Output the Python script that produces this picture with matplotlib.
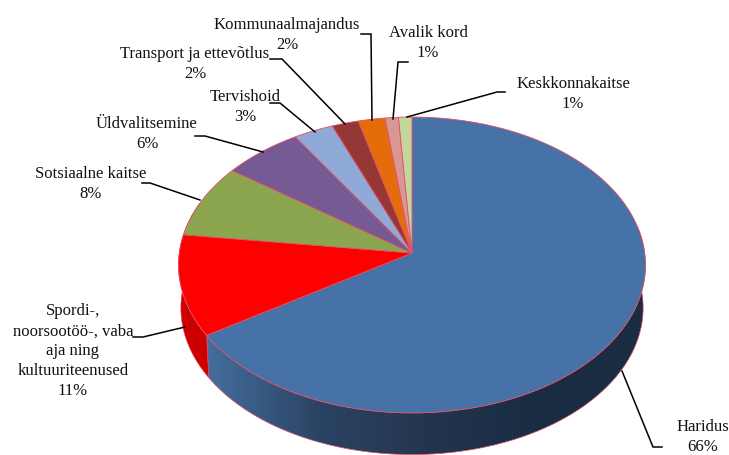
import numpy as np
import matplotlib
matplotlib.use("Agg")
import matplotlib.pyplot as plt
from matplotlib.patches import Polygon
from matplotlib.colors import LinearSegmentedColormap

categories = ["Haridus", "Spordi-,\nnoorsootöö-, vaba\naja ning\nkultuuriteenused", "Sotsiaalne kaitse",
              "Üldvalitsemine", "Tervishoid", "Transport ja ettevõtlus", "Kommunaalmajandus",
              "Avalik kord", "Keskkonnakaitse"]
values = [66, 11, 8, 6, 3, 2, 2, 1, 1]
colors = ["#4672a8", "#ff0000", "#8ba64e", "#765a94", "#8faad6", "#953735", "#e46c0a", "#d99694", "#c3d69b"]

# label centres and leader lines, in pixels
label_pos = [(703, 437), (73, 351), (91, 184), (147, 134), (245, 107), (195, 64), (287, 35), (428, 43), (573, 94)]
leaders = [
    [(622, 372), (653, 448), (662, 448)],
    [(185, 328), (143, 338), (133, 338)],
    [(200, 201), (150, 184), (142, 184)],
    [(263, 153), (205, 137), (195, 137)],
    [(315, 133), (280, 104), (270, 104)],
    [(345, 125), (282, 60), (270, 60)],
    [(372, 121), (371, 35), (361, 35)],
    [(393, 120), (398, 63), (408, 63)],
    [(407, 118), (497, 93), (505, 93)],
]

CX, CY = 412, 254   # where the slices meet
RX, K, P = 232.7, 0.081, -126.4   # perspective of the tilted disc
DEPTH = 43
EDGE = "#e0506a"


def project(theta, scale=1.0, drop=0):
    # theta in degrees clockwise from the top
    t = np.radians(theta)
    u, v = np.sin(t), np.cos(t)
    w = 1 + K * v
    x = CX + scale * RX * u / w
    y = (scale * P * v + CY) / w + drop
    return x, y


def side_poly(t0, t1):
    th = np.linspace(t0, t1, 120)
    xt, yt = project(th)
    xb, yb = project(th[::-1], 0.99, DEPTH)
    return np.column_stack([np.r_[xt, xb], np.r_[yt, yb]])


plt.rcParams["font.family"] = "Liberation Serif"
fig = plt.figure(figsize=(7.29, 4.56), dpi=100)
ax = fig.add_axes([0, 0, 1, 1])

shares = np.array(values) / sum(values) * 360
ends = np.cumsum(shares)
starts = ends - shares

# blue side with its gradient
blue_cmap = LinearSegmentedColormap.from_list("b", ["#456f9f", "#2b4464", "#24364f", "#1a2c42", "#1a2c42"])
side = Polygon(side_poly(80, ends[0]), closed=True, facecolor="none", edgecolor="none")
ax.add_patch(side)
img = ax.imshow(np.linspace(0, 1, 256).reshape(1, -1), cmap=blue_cmap, extent=(205, 645, 460, 270), aspect="auto")
img.set_clip_path(side)
ax.add_patch(Polygon(side_poly(80, ends[0]), closed=True, facecolor="none", edgecolor=EDGE, lw=0.5))
ax.add_patch(Polygon(side_poly(ends[0], 290), closed=True, facecolor="#cc0000", edgecolor=EDGE, lw=0.4))

# top of the pie
for s, e, c in zip(starts, ends, colors):
    th = np.linspace(s, e, 200)
    x, y = project(th)
    pts = np.column_stack([np.r_[CX, x], np.r_[CY, y]])
    ax.add_patch(Polygon(pts, closed=True, facecolor=c, edgecolor=EDGE, lw=0.6))

for line in leaders:
    xs, ys = zip(*line)
    ax.plot(xs, ys, color="black", lw=1.1, solid_joinstyle="miter")

for cat, val, (lx, ly) in zip(categories, values, label_pos):
    ax.text(lx, ly, f"{cat}\n{val}%", ha="center", va="center", fontsize=12, color="#111111", linespacing=1.32)

ax.set_xlim(0, 729)
ax.set_ylim(456, 0)
ax.axis("off")
fig.savefig("out.png", dpi=100, facecolor="white")
